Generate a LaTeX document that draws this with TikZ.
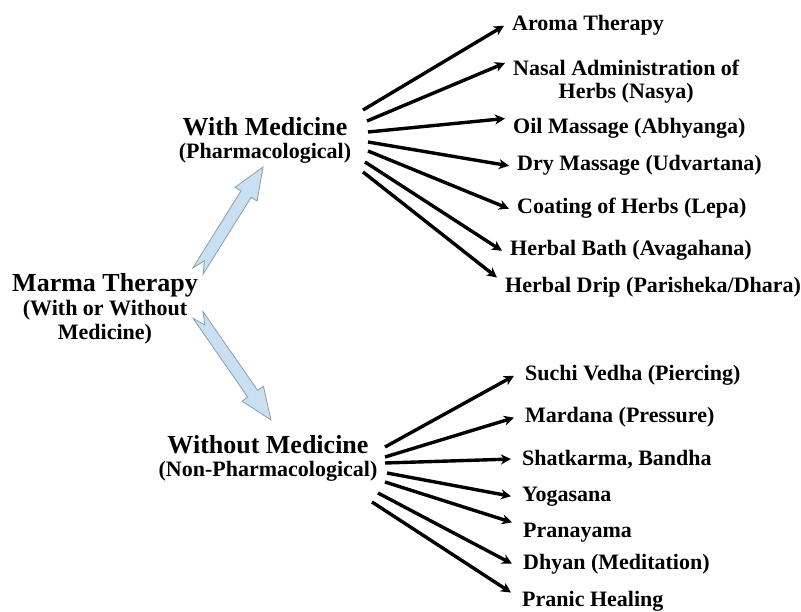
\documentclass[tikz,border=0pt]{standalone}
\usepackage{fontspec}
\setmainfont{Liberation Serif}
\usetikzlibrary{arrows.meta,calc}
\definecolor{arrowfill}{RGB}{200,224,242}
\definecolor{arrowline}{RGB}{140,158,172}
\newcommand\fatarrow[2]{%
  \draw[fat] ($(#1)!6pt!90:(#2)$) -- ($(#2)!32pt!(#1)!6pt!-90:(#1)$)
    -- ($(#2)!32pt!(#1)!13pt!-90:(#1)$) -- (#2)
    -- ($(#2)!32pt!(#1)!13pt!90:(#1)$) -- ($(#2)!32pt!(#1)!6pt!90:(#1)$)
    -- ($(#1)!6pt!-90:(#2)$) -- ($(#1)!12pt!(#2)$) -- cycle;}
\begin{document}
\begin{tikzpicture}[x=1pt,y=-1pt,
  hub/.style={align=center, inner sep=0pt, font=\fontsize{22}{23}\selectfont\bfseries},
  ulbl/.style={anchor=base west, inner xsep=8pt, inner ysep=0pt, font=\fontsize{22}{23}\selectfont\bfseries},
  llbl/.style={ulbl, inner xsep=11pt},
  conn/.style={line width=3.4pt, -{Stealth[length=10pt,width=10pt,inset=3pt]}},
  fat/.style={fill=arrowfill, draw=arrowline, line width=0.8pt, line join=miter}]
\useasboundingbox (0,0) rectangle (801,612);

% hub nodes
\node[hub, font=\fontsize{22}{24}\selectfont\bfseries] (marma) at (105,309)
  {{\fontsize{26}{26}\selectfont Marma Therapy}\\(With or Without\\Medicine)};
\node[hub] (with) at (265,140)
  {{\fontsize{26}{26}\selectfont With Medicine}\\(Pharmacological)};
\node[hub] (without) at (268,458)
  {{\fontsize{26}{26}\selectfont Without Medicine}\\(Non-Pharmacological)};

% blue arrows
\coordinate (bt1) at (198,271);
\coordinate (bh1) at (263,167);
\coordinate (bt2) at (198,315);
\coordinate (bh2) at (271,420);
\fatarrow{bt1}{bh1}
\fatarrow{bt2}{bh2}

% upper labels
\node[ulbl] (aroma) at (504,31) {Aroma Therapy};
\node[ulbl, anchor=north west, align=center] (nasal) at (505,60) {Nasal Administration of\\Herbs (Nasya)};
\node[ulbl] (oil) at (505,134) {Oil Massage (Abhyanga)};
\node[ulbl] (dry) at (509,171) {Dry Massage (Udvartana)};
\node[ulbl] (coat) at (509,214) {Coating of Herbs (Lepa)};
\node[ulbl] (bath) at (502,256) {Herbal Bath (Avagahana)};
\node[ulbl] (drip) at (497,293) {Herbal Drip (Parisheka/Dhara)};

% lower labels
\node[llbl] (suchi) at (514,381) {Suchi Vedha (Piercing)};
\node[llbl] (mard) at (514,423) {Mardana (Pressure)};
\node[llbl] (shat) at (511,465) {Shatkarma, Bandha};
\node[llbl] (yoga) at (511,501) {Yogasana};
\node[llbl] (prana) at (512,537) {Pranayama};
\node[llbl] (dhyan) at (512,569) {Dhyan (Meditation)};
\node[llbl] (pranic) at (511,606) {Pranic Healing};

% start points of the connectors
\coordinate (u1) at (363,110);
\coordinate (u2) at (367,121);
\coordinate (u3) at (368,132);
\coordinate (u4) at (368,142);
\coordinate (u5) at (368,151);
\coordinate (u6) at (365,162);
\coordinate (u7) at (363,172);
\coordinate (l1) at (385,447);
\coordinate (l2) at (385,457);
\coordinate (l3) at (385,463);
\coordinate (l4) at (387,473);
\coordinate (l5) at (385,482);
\coordinate (l6) at (378,493);
\coordinate (l7) at (372,502);

\draw[conn] (u1) -- (aroma.west);
\draw[conn] (u2) -- ([yshift=-3pt]nasal.north west);
\draw[conn] (u3) -- (oil.north west);
\draw[conn] (u4) -- (dry.west);
\draw[conn] (u5) -- (coat.west);
\draw[conn] (u6) -- (bath.west);
\draw[conn] (u7) -- (drip.north west);

\draw[conn] (l1) -- (suchi.west);
\draw[conn] (l2) -- (mard.west);
\draw[conn] (l3) -- (shat.west);
\draw[conn] (l4) -- (yoga.west);
\draw[conn] (l5) -- (prana.north west);
\draw[conn] (l6) -- (dhyan.west);
\draw[conn] (l7) -- ([yshift=-2pt]pranic.north west);
\end{tikzpicture}
\end{document}
